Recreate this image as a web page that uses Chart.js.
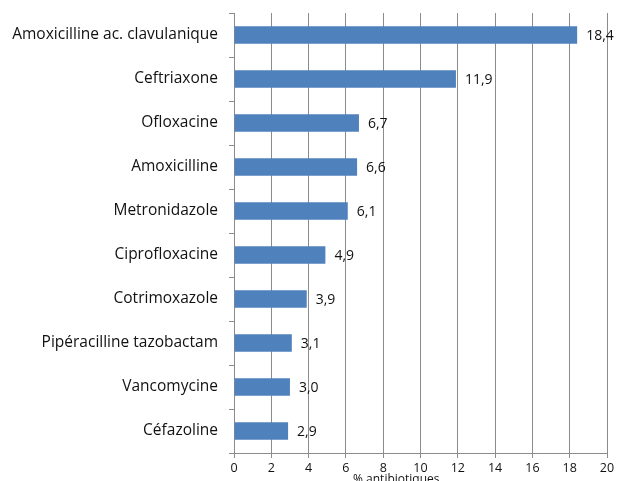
<!DOCTYPE html>
<html>
<head>
<meta charset="utf-8">
<script src="https://cdn.jsdelivr.net/npm/chart.js@4.4.0/dist/chart.umd.min.js"></script>
<style>
  html, body { margin: 0; padding: 0; background: #fff; }
  #wrap { width: 620px; height: 481px; position: relative; }
</style>
</head>
<body>
<div id="wrap"><canvas id="c"></canvas></div>
<script>
const antibiotiques = [
  'Amoxicilline ac. clavulanique',
  'Ceftriaxone',
  'Ofloxacine',
  'Amoxicilline',
  'Metronidazole',
  'Ciprofloxacine',
  'Cotrimoxazole',
  'Pipéracilline tazobactam',
  'Vancomycine',
  'Céfazoline'
];
const pourcentages = [18.4, 11.9, 6.7, 6.6, 6.1, 4.9, 3.9, 3.1, 3.0, 2.9];
const ticksX = [0, 2, 4, 6, 8, 10, 12, 14, 16, 18, 20];
const titreX = '% antibiotiques';

const fontFam = '"Open Sans", "DejaVu Sans", sans-serif';

// labels de valeur a droite des barres, virgule decimale
const valeurs = {
  id: 'valeurs',
  afterDatasetsDraw(chart) {
    const ctx = chart.ctx;
    const meta = chart.getDatasetMeta(0);
    ctx.save();
    ctx.font = '14px ' + fontFam;
    ctx.fillStyle = '#111';
    ctx.textBaseline = 'middle';
    ctx.textAlign = 'left';
    meta.data.forEach((bar, i) => {
      const txt = pourcentages[i].toFixed(1).replace('.', ',');
      ctx.fillText(txt, bar.x + 9, bar.y + 1);
    });
    ctx.restore();
  }
};

// titre de l'axe, qui chevauche les etiquettes comme dans l'original
const titreAxe = {
  id: 'titreAxe',
  afterDraw(chart) {
    const ctx = chart.ctx;
    const a = chart.chartArea;
    ctx.save();
    ctx.font = '12px ' + fontFam;
    ctx.fillStyle = '#111';
    ctx.textAlign = 'center';
    ctx.textBaseline = 'middle';
    ctx.fillText(titreX, a.left + (a.right - a.left) * 0.435, a.bottom + 27);
    ctx.restore();
  }
};

new Chart(document.getElementById('c'), {
  type: 'bar',
  data: {
    labels: antibiotiques,
    datasets: [{
      data: pourcentages,
      backgroundColor: '#4F81BD',
      borderWidth: 0,
      barPercentage: 0.4,
      categoryPercentage: 1
    }]
  },
  options: {
    indexAxis: 'y',
    responsive: true,
    maintainAspectRatio: false,
    animation: false,
    layout: { padding: { top: 13, right: 13, left: 0, bottom: 0 } },
    plugins: {
      legend: { display: false },
      tooltip: { enabled: false }
    },
    scales: {
      x: {
        min: 0,
        max: 20,
        afterBuildTicks: s => { s.ticks = ticksX.map(v => ({ value: v })); },
        afterFit: s => { s.height = 28; },
        grid: {
          color: '#8c8c8c',
          lineWidth: 1,
          tickLength: 5,
          drawTicks: true
        },
        border: { display: true, color: '#8c8c8c' },
        ticks: {
          padding: 3,
          color: '#111',
          font: { size: 12.5, family: fontFam },
          maxRotation: 0
        }
      },
      y: {
        afterFit: s => { s.width = 234; s.paddingTop = 0; s.paddingBottom = 0; },
        grid: {
          drawOnChartArea: false,
          drawTicks: true,
          tickLength: 5,
          offset: true,
          color: '#8c8c8c'
        },
        border: { display: true, color: '#8c8c8c' },
        ticks: {
          padding: 11,
          color: '#111',
          font: { size: 15.5, family: fontFam }
        }
      }
    }
  },
  plugins: [valeurs, titreAxe]
});
</script>
</body>
</html>
